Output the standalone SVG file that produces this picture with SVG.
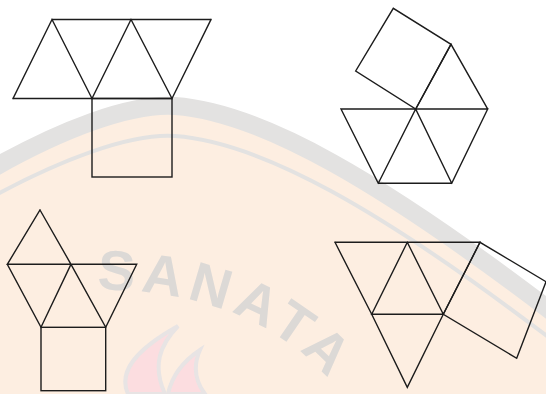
<svg xmlns="http://www.w3.org/2000/svg" width="546" height="394" viewBox="0 0 546 394">
<style>
.ln{fill:none;stroke:#1c1c1c;stroke-width:1.4;stroke-linejoin:miter;stroke-linecap:square}
.wm{fill:none;stroke:#e3e2e1}
.fl{fill:#fcdde0;stroke:#e8e4e4;stroke-width:4}
</style>
<defs>
<path id="arc" d="M40,292 Q150,282 230,312 T360,420"/>
</defs>
<rect width="546" height="394" fill="#ffffff"/>
<g id="watermark">
<path d="M-10,170 C60,130 130,103 175,106 C260,112 380,180 560,318 L560,400 L-10,400 Z" fill="#fdeee1"/>
<path class="wm" stroke-width="18" d="M-10,170 C60,130 130,103 175,106 C260,112 380,180 560,318"/>
<path class="wm" stroke-width="4" d="M-10,198 C60,160 130,133 175,136 C260,142 380,208 560,346"/>
<text font-family="Liberation Sans, Arial, sans-serif" font-weight="bold" font-size="56" letter-spacing="6" fill="#dcd9d6"><textPath href="#arc" startOffset="57">SANATA</textPath></text>
<path class="fl" d="M128,394 C118,372 135,350 178,326 C160,345 152,365 165,394 Z"/>
<path class="fl" d="M168,394 C172,375 185,360 200,350 C192,368 196,382 205,394 Z"/>
</g>
<g id="fig1">
<path class="ln" d="M52,19.5 H211 M13,98.5 H172 M13,98.5 L52,19.5 L92,98.5 L131,19.5 L172,98.5 L211,19.5"/>
<rect class="ln" x="92" y="98.5" width="80" height="78.5"/>
</g>
<g id="fig2">
<path class="ln" d="M341,109 H487.7 L451.7,183.3 H378.3 Z M415.7,109 L378.3,183.3 M415.7,109 L451.7,183.3 M415.7,109 L451,44.3 L487.7,109"/>
<path class="ln" d="M415.7,109 L451,44.3 L393.3,8.3 L355.7,71 Z"/>
</g>
<g id="fig3">
<path class="ln" d="M40,210 L7.3,264.3 H136.7 L105.7,327.3 L71,264.3 L40,210 M7.3,264.3 L41,327.3 L71,264.3"/>
<rect class="ln" x="41" y="327.3" width="64.7" height="63.4"/>
</g>
<g id="fig4">
<path class="ln" d="M335,242.3 H480 L443.3,314.3 L407.3,387.3 L371.7,314.3 L335,242.3 M407.3,242.3 L371.7,314.3 H443.3 Z"/>
<path class="ln" d="M443.3,314.3 L480,242.3 L546,281.7 L516.7,358.3 Z"/>
</g>
</svg>
